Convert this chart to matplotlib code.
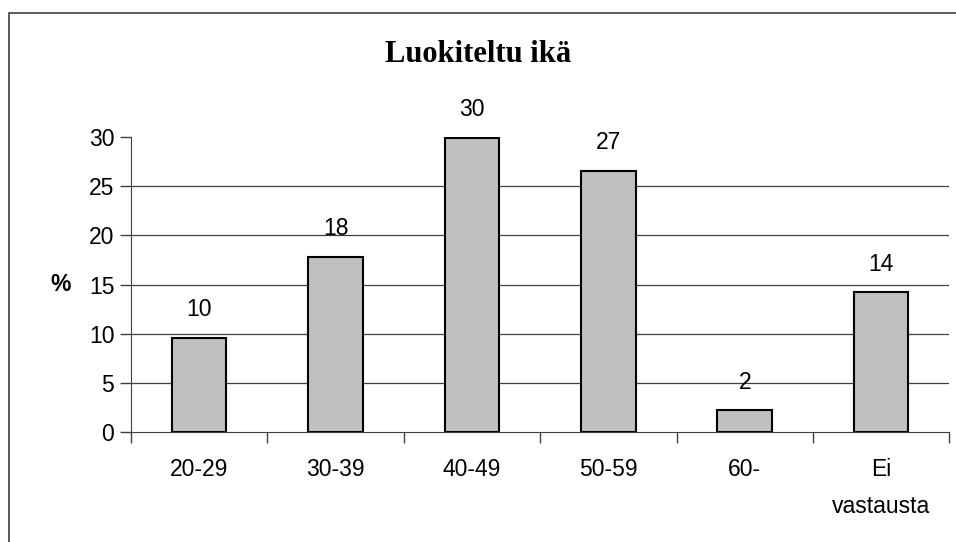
import matplotlib.pyplot as plt
from matplotlib.patches import Rectangle

categories = ["20-29", "30-39", "40-49", "50-59", "60-", "Ei\nvastausta"]
values = [9.6, 17.8, 29.9, 26.6, 2.2, 14.2]
yticks = [0, 5, 10, 15, 20, 25, 30]

FS = 16.5
fig = plt.figure(figsize=(9.56, 5.42), dpi=100)
ax = fig.add_axes([0.137, 0.203, 0.856, 0.544])

# outer frame around the chart area (open to the right and bottom)
fig.patches.append(Rectangle((9 / 956, -0.1), 1.2, 1 - 13 / 542 + 0.1,
                             transform=fig.transFigure, fill=False,
                             edgecolor="#404040", linewidth=1.2))

x = list(range(len(categories)))
bars = ax.bar(x, values, width=0.4, color="#C0C0C0", edgecolor="black", linewidth=1.5, zorder=3)

for b, v in zip(bars, values):
    ax.annotate(f"{v:.0f}", (b.get_x() + b.get_width() / 2, v),
                xytext=(0, 12), textcoords="offset points",
                ha="center", va="bottom", fontsize=FS, family="Liberation Sans")

for t in yticks[1:-1]:
    ax.axhline(t, color="#404040", linewidth=0.9, zorder=1)

ax.set_xlim(-0.5, len(categories) - 0.5)
ax.set_ylim(0, 30)
ax.set_yticks(yticks)
ax.set_yticklabels([str(t) for t in yticks], fontsize=FS, family="Liberation Sans")
ax.set_xticks(x)
ax.set_xticklabels(categories, fontsize=FS, family="Liberation Sans", linespacing=1.75)
ax.tick_params(axis="x", length=0, pad=19)
ax.tick_params(axis="y", length=8, width=1, color="#404040", pad=4)

# tick marks between categories
ax.set_xticks([i - 0.5 for i in range(len(categories) + 1)], minor=True)
ax.tick_params(axis="x", which="minor", length=8, width=1, color="#404040", direction="out")

for s in ["top", "right"]:
    ax.spines[s].set_visible(False)
ax.spines["left"].set_color("#404040")
ax.spines["bottom"].set_color("#404040")
ax.spines["bottom"].set_zorder(4)

ax.set_ylabel("%", rotation=0, fontsize=FS, fontweight="bold", family="Liberation Sans",
              labelpad=20, va="center")
fig.text(0.5, 1 - 55 / 542, "Luokiteltu ikä", ha="center", va="center",
         fontsize=22, fontweight="bold", family="Liberation Serif")

fig.savefig("out.png", dpi=100)
